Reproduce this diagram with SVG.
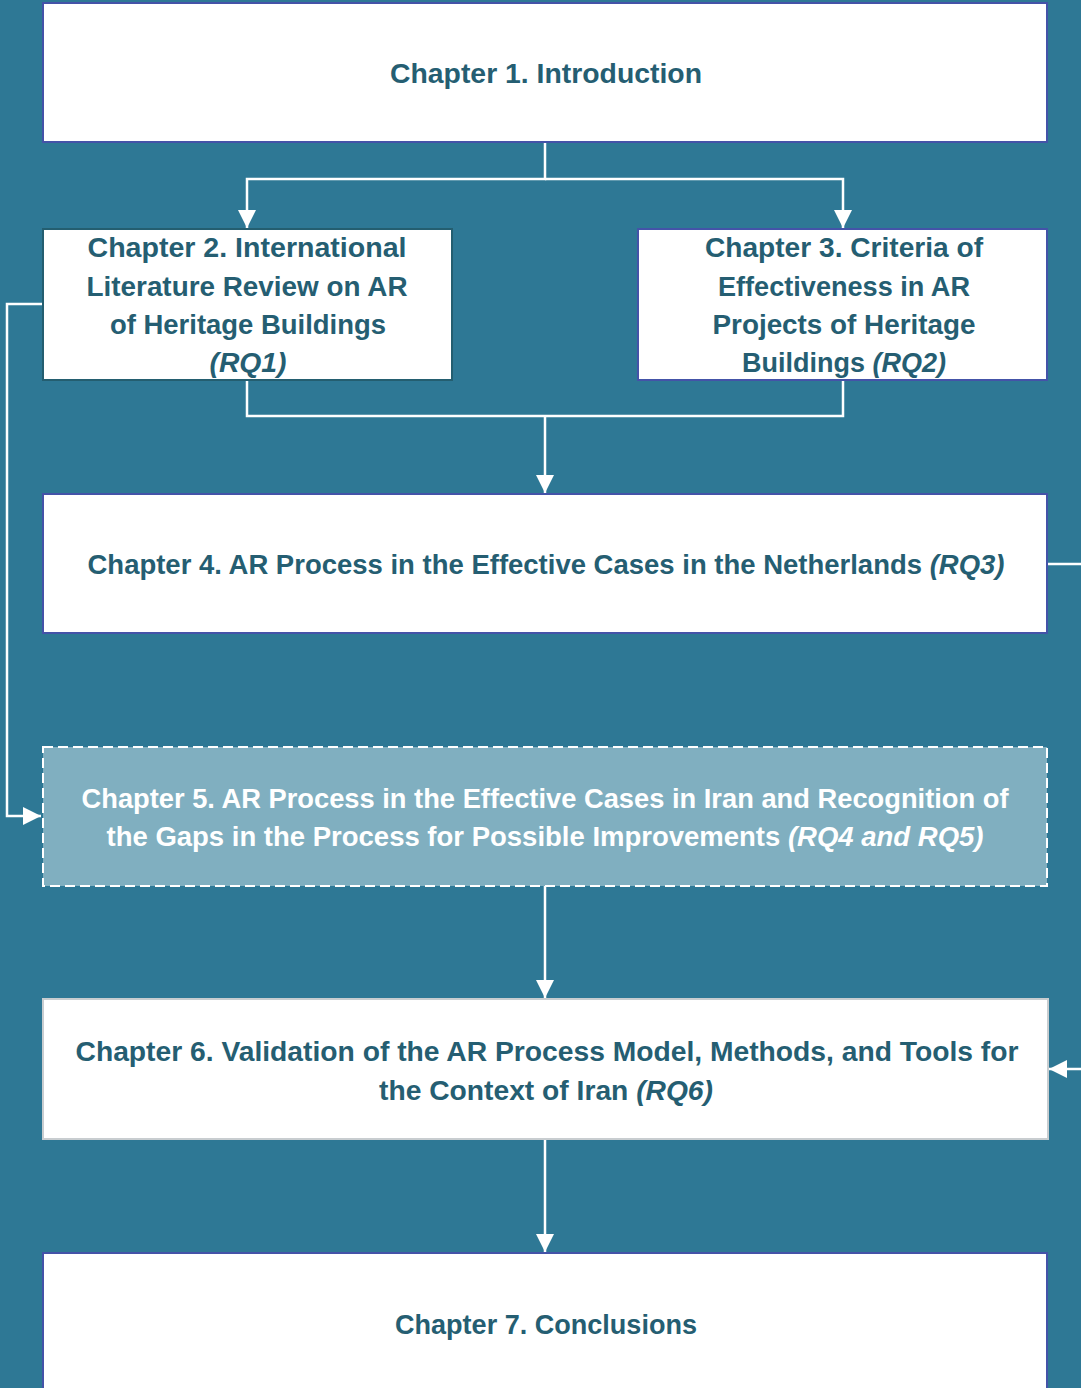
<svg xmlns="http://www.w3.org/2000/svg" width="1081" height="1388" viewBox="0 0 1081 1388">
<style>
.box{fill:#ffffff;stroke:#4453A8;stroke-width:2}
.t{font-family:"Liberation Sans",Arial,sans-serif;font-weight:bold;font-size:27.5px;fill:#255E72;text-anchor:middle}
.w{fill:#ffffff}
.i{font-style:italic}
.c{fill:none;stroke:#ffffff;stroke-width:2.5}
</style>
<defs>
<marker id="ah" viewBox="0 0 10 10" refX="10" refY="5" markerWidth="7.2" markerHeight="7.2" markerUnits="strokeWidth" orient="auto">
<path d="M0,0 L10,5 L0,10 z" fill="#ffffff"/>
</marker>
</defs>
<rect x="0" y="0" width="1081" height="1388" fill="#2E7895"/>
<g id="connectors">
<path class="c" d="M545,142 V179 H247 V228" marker-end="url(#ah)"/>
<path class="c" d="M545,179 H843 V228" marker-end="url(#ah)"/>
<path class="c" d="M247,380 V416 H843 V380"/>
<path class="c" d="M545,416 V493" marker-end="url(#ah)"/>
<path class="c" d="M42,304 H7 V816 H41" marker-end="url(#ah)"/>
<path class="c" d="M1047,564 H1095 V1069 H1049" marker-end="url(#ah)"/>
<path class="c" d="M545,886 V998" marker-end="url(#ah)"/>
<path class="c" d="M545,1139 V1252" marker-end="url(#ah)"/>
</g>
<g id="ch1">
<rect class="box" x="43" y="3" width="1004" height="139"/>
<text class="t" x="546" y="83" textLength="312" lengthAdjust="spacingAndGlyphs">Chapter 1. Introduction</text>
</g>
<g id="ch2">
<rect class="box" x="43" y="229" width="409" height="151" style="stroke:#245E70"/>
<text class="t" x="247" y="257" textLength="319" lengthAdjust="spacingAndGlyphs">Chapter 2. International</text>
<text class="t" x="247" y="296" textLength="321" lengthAdjust="spacingAndGlyphs">Literature Review on AR</text>
<text class="t" x="248" y="334" textLength="276" lengthAdjust="spacingAndGlyphs">of Heritage Buildings</text>
<text class="t i" x="248" y="372" textLength="77" lengthAdjust="spacingAndGlyphs">(RQ1)</text>
</g>
<g id="ch3">
<rect class="box" x="638" y="229" width="409" height="151"/>
<text class="t" x="844" y="257" textLength="278" lengthAdjust="spacingAndGlyphs">Chapter 3. Criteria of</text>
<text class="t" x="844" y="296" textLength="252" lengthAdjust="spacingAndGlyphs">Effectiveness in AR</text>
<text class="t" x="844" y="334" textLength="263" lengthAdjust="spacingAndGlyphs">Projects of Heritage</text>
<text class="t" x="844" y="372" textLength="204" lengthAdjust="spacingAndGlyphs">Buildings <tspan class="i">(RQ2)</tspan></text>
</g>
<g id="ch4">
<rect class="box" x="43" y="494" width="1004" height="139"/>
<text class="t" x="546" y="574" textLength="917" lengthAdjust="spacingAndGlyphs">Chapter 4. AR Process in the Effective Cases in the Netherlands <tspan class="i">(RQ3)</tspan></text>
</g>
<g id="ch5">
<rect x="43" y="747" width="1004" height="139" fill="#80AFC0" stroke="#ffffff" stroke-width="2" stroke-dasharray="10,5"/>
<text class="t w" x="545" y="808" textLength="927" lengthAdjust="spacingAndGlyphs">Chapter 5. AR Process in the Effective Cases in Iran and Recognition of</text>
<text class="t w" x="545" y="846" textLength="877" lengthAdjust="spacingAndGlyphs">the Gaps in the Process for Possible Improvements <tspan class="i">(RQ4 and RQ5)</tspan></text>
</g>
<g id="ch6">
<rect class="box" x="43" y="999" width="1005" height="140" style="stroke:#C8CDD0"/>
<text class="t" x="547" y="1061" textLength="943" lengthAdjust="spacingAndGlyphs">Chapter 6. Validation of the AR Process Model, Methods, and Tools for</text>
<text class="t" x="546" y="1100" textLength="334" lengthAdjust="spacingAndGlyphs">the Context of Iran <tspan class="i">(RQ6)</tspan></text>
</g>
<g id="ch7">
<rect class="box" x="43" y="1253" width="1004" height="150"/>
<text class="t" x="546" y="1334" textLength="302" lengthAdjust="spacingAndGlyphs">Chapter 7. Conclusions</text>
</g>
</svg>
